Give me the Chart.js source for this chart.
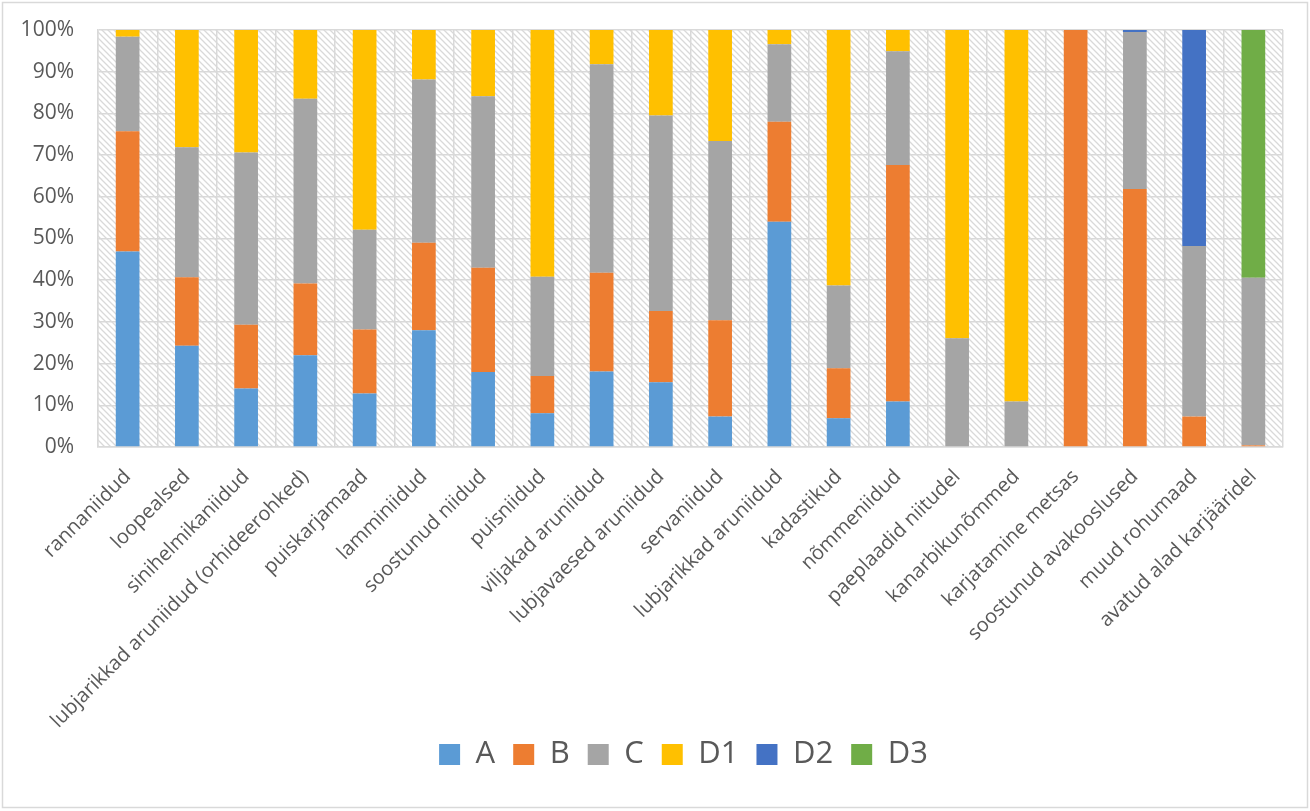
<!DOCTYPE html>
<html>
<head>
<meta charset="utf-8">
<script src="https://cdn.jsdelivr.net/npm/chart.js@4.4.1/dist/chart.umd.min.js"></script>
<style>
  html, body { margin: 0; padding: 0; background: #fff; }
  #wrap { width: 1310px; height: 811px; }
</style>
</head>
<body>
<div id="wrap"><canvas id="myChart" width="1310" height="811"></canvas></div>
<script>
var categories = ['rannaniidud', 'loopealsed', 'sinihelmikaniidud',
  'lubjarikkad aruniidud (orhideerohked)', 'puiskarjamaad', 'lamminiidud',
  'soostunud niidud', 'puisniidud', 'viljakad aruniidud', 'lubjavaesed aruniidud',
  'servaniidud', 'lubjarikkad aruniidud', 'kadastikud', 'nõmmeniidud',
  'paeplaadid niitudel', 'kanarbikunõmmed', 'karjatamine metsas',
  'soostunud avakooslused', 'muud rohumaad', 'avatud alad karjääridel'];

var seriesA  = [46.9, 24.3, 14.0, 22.0, 12.8, 28.0, 18.0, 8.1, 18.1, 15.5, 7.3, 54.0, 6.9, 10.9, 0, 0, 0, 0, 0, 0];
var seriesB  = [28.8, 16.4, 15.3, 17.2, 15.4, 21.0, 25.0, 8.9, 23.7, 17.1, 23.1, 24.0, 12.0, 56.7, 0, 0, 100, 61.9, 7.3, 0.4];
var seriesC  = [22.7, 31.2, 41.3, 44.3, 23.9, 39.1, 41.1, 23.8, 50.0, 46.9, 43.0, 18.6, 19.8, 27.3, 26.1, 10.9, 0, 37.6, 40.9, 40.2];
var seriesD1 = [1.6, 28.1, 29.4, 16.5, 47.9, 11.9, 15.9, 59.2, 8.2, 20.5, 26.6, 3.4, 61.3, 5.1, 73.9, 89.1, 0, 0, 0, 0];
var seriesD2 = [0, 0, 0, 0, 0, 0, 0, 0, 0, 0, 0, 0, 0, 0, 0, 0, 0, 0.5, 51.8, 0];
var seriesD3 = [0, 0, 0, 0, 0, 0, 0, 0, 0, 0, 0, 0, 0, 0, 0, 0, 0, 0, 0, 59.4];

var yTicks = [0, 10, 20, 30, 40, 50, 60, 70, 80, 90, 100];

// hatched plot background, like excel's diagonal pattern fill
var tile = document.createElement('canvas');
tile.width = 6; tile.height = 6;
var tctx = tile.getContext('2d');
tctx.fillStyle = '#ffffff';
tctx.fillRect(0, 0, 6, 6);
tctx.strokeStyle = '#d9d9d9';
tctx.lineWidth = 1.3;
tctx.beginPath();
tctx.moveTo(-1, -1); tctx.lineTo(7, 7);
tctx.moveTo(5, -1); tctx.lineTo(7, 1);
tctx.moveTo(-1, 5); tctx.lineTo(1, 7);
tctx.stroke();

var hatchPlugin = {
  id: 'hatch',
  afterLayout: function(chart) {
    // excel centres the legend under the plot area, and tucks it under the long labels
    var lg = chart.legend;
    lg.left += 42; lg.right += 42;
    lg.top -= 10; lg.bottom -= 10;
  },
  beforeDraw: function(chart) {
    var c = chart.ctx, a = chart.chartArea;
    c.save();
    c.fillStyle = c.createPattern(tile, 'repeat');
    c.fillRect(a.left, a.top, a.right - a.left, a.bottom - a.top);
    c.restore();
  },
  afterDraw: function(chart) {
    var c = chart.ctx;
    c.save();
    c.strokeStyle = '#d9d9d9';
    c.lineWidth = 1.5;
    c.strokeRect(2.5, 2.5, 1305, 805);
    c.restore();
  }
};

function ds(label, data, color) {
  return { label: label, data: data, backgroundColor: color, borderWidth: 0,
           barPercentage: 0.4, categoryPercentage: 1.0 };
}

Chart.defaults.font.family = '"Open Sans", sans-serif';
Chart.defaults.color = '#595959';

var ctx = document.getElementById('myChart').getContext('2d');
var myChart = new Chart(ctx, {
  type: 'bar',
  data: {
    labels: categories,
    datasets: [
      ds('A', seriesA, '#5B9BD5'),
      ds('B', seriesB, '#ED7D31'),
      ds('C', seriesC, '#A5A5A5'),
      ds('D1', seriesD1, '#FFC000'),
      ds('D2', seriesD2, '#4472C4'),
      ds('D3', seriesD3, '#70AD47')
    ]
  },
  plugins: [hatchPlugin],
  options: {
    responsive: false,
    animation: false,
    layout: { padding: { top: 30, right: 27, bottom: 21, left: 0 } },
    plugins: {
      tooltip: { enabled: false },
      legend: {
        position: 'bottom',
        labels: {
          boxWidth: 21, boxHeight: 21, padding: 18,
          font: { size: 31 }, color: '#595959'
        }
      }
    },
    scales: {
      x: {
        stacked: true,
        grid: { color: '#d9d9d9', lineWidth: 1.5, drawTicks: false, offset: true },
        border: { color: '#d9d9d9', width: 1.5 },
        ticks: { autoSkip: false, maxRotation: 45, minRotation: 45, padding: 18,
                 font: { size: 20 }, color: '#595959' },
        afterFit: function(scale) { scale.height = 284; }
      },
      y: {
        stacked: true,
        min: 0, max: 100,
        afterBuildTicks: function(scale) {
          scale.ticks = yTicks.map(function(v) { return { value: v }; });
        },
        grid: { color: '#d9d9d9', lineWidth: 1.5, drawTicks: false },
        border: { color: '#d9d9d9', width: 1.5 },
        ticks: { padding: 24, font: { size: 21 }, color: '#595959',
                 callback: function(v) { return v + '%'; } },
        afterFit: function(scale) { scale.width = 98; scale.paddingTop = 0; }
      }
    }
  }
});
</script>
</body>
</html>
